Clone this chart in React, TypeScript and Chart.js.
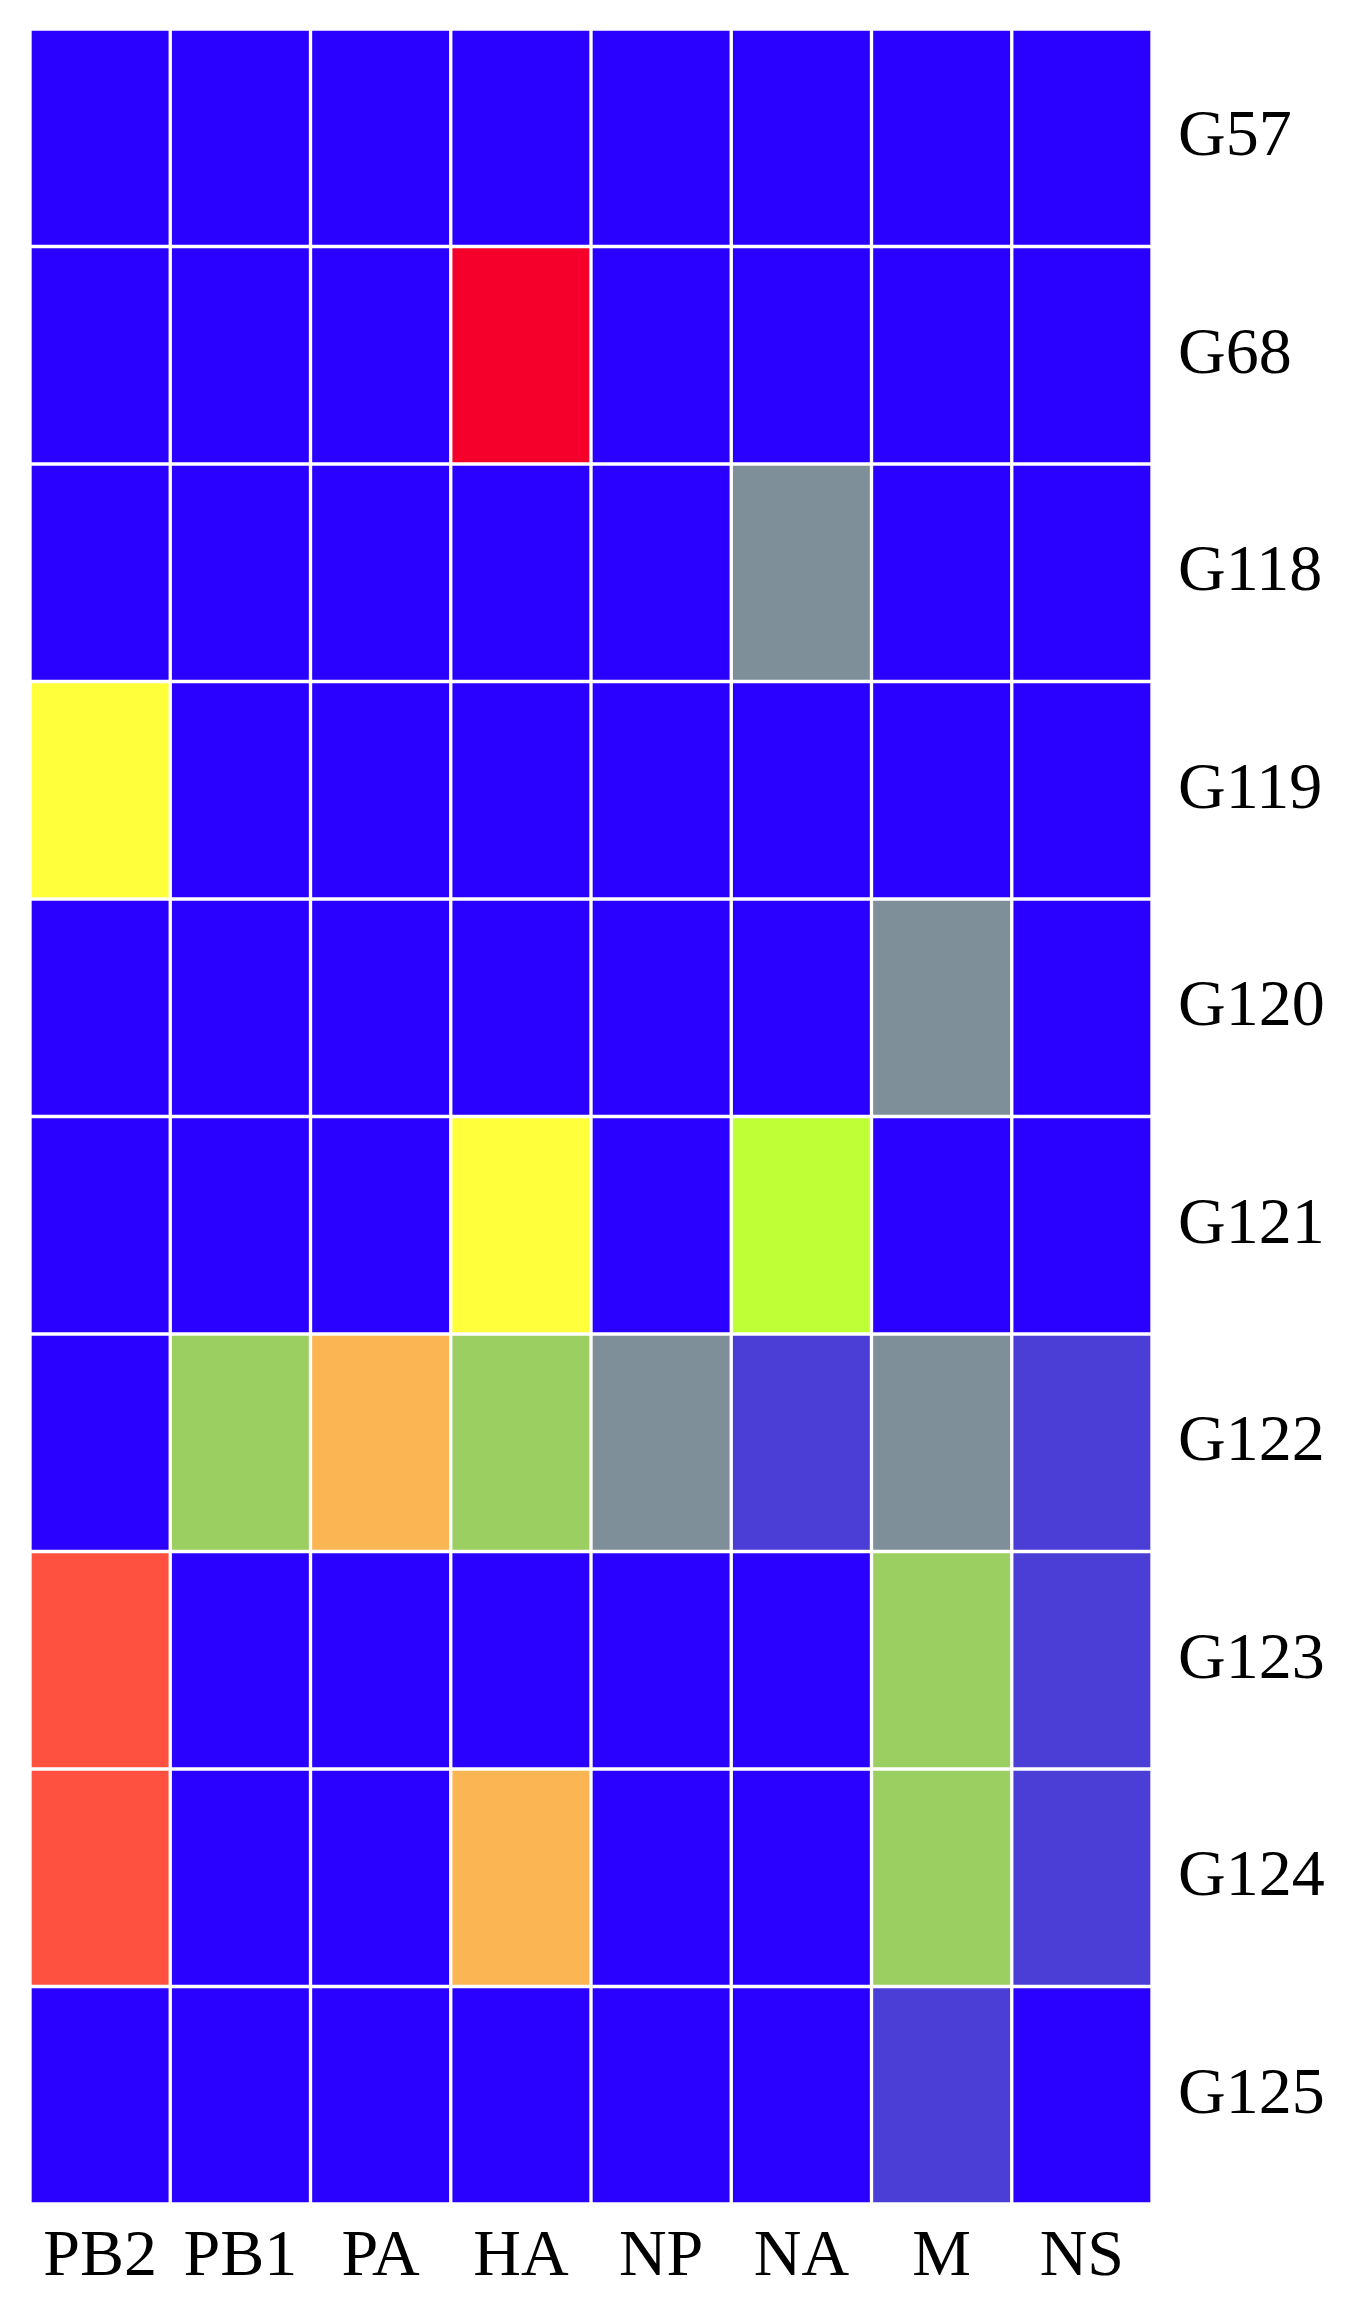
import React, { useEffect, useRef } from "react";
import { Chart, registerables } from "chart.js";

Chart.register(...registerables);

const segments = ["PB2", "PB1", "PA", "HA", "NP", "NA", "M", "NS"];
const groups = ["G57", "G68", "G118", "G119", "G120", "G121", "G122", "G123", "G124", "G125"];

// level index per cell (row = group, column = segment)
const levelColors = [
  "#2A00FF", // 0 blue
  "#4A3ED6", // 1 purple-blue
  "#7F8F99", // 2 gray
  "#9CCF61", // 3 green
  "#BEFF36", // 4 lime
  "#FFFF3C", // 5 yellow
  "#FBB553", // 6 orange
  "#FF5040", // 7 red-orange
  "#F5002A", // 8 red
];

const G57 = [0, 0, 0, 0, 0, 0, 0, 0];
const G68 = [0, 0, 0, 8, 0, 0, 0, 0];
const G118 = [0, 0, 0, 0, 0, 2, 0, 0];
const G119 = [5, 0, 0, 0, 0, 0, 0, 0];
const G120 = [0, 0, 0, 0, 0, 0, 2, 0];
const G121 = [0, 0, 0, 5, 0, 4, 0, 0];
const G122 = [0, 3, 6, 3, 2, 1, 2, 1];
const G123 = [7, 0, 0, 0, 0, 0, 3, 1];
const G124 = [7, 0, 0, 6, 0, 0, 3, 1];
const G125 = [0, 0, 0, 0, 0, 0, 1, 0];

const matrix = [G57, G68, G118, G119, G120, G121, G122, G123, G124, G125];

export default function App() {
  const ref = useRef<HTMLCanvasElement>(null);

  useEffect(() => {
    if (!ref.current) return;
    const font = { family: "'Liberation Serif', 'Times New Roman', serif", size: 66 };
    const datasets = segments.map((seg, c) => ({
      label: seg,
      data: groups.map(() => [c, c + 1] as [number, number]),
      backgroundColor: matrix.map((row) => levelColors[row[c]]),
      borderColor: "#ffffff",
      borderWidth: 2,
      borderSkipped: false as const,
      barPercentage: 1,
      categoryPercentage: 1,
      grouped: false,
    }));
    const chart = new Chart(ref.current, {
      type: "bar",
      data: { labels: groups, datasets: datasets as any },
      options: {
        indexAxis: "y",
        responsive: false,
        animation: false,
        layout: { padding: { left: 30, top: 29, right: 0, bottom: 0 } },
        plugins: { legend: { display: false }, tooltip: { enabled: false } },
        scales: {
          x: {
            type: "linear",
            min: 0,
            max: segments.length,
            grid: { display: false, drawTicks: false },
            border: { display: false },
            afterBuildTicks: (scale: any) => {
              scale.ticks = segments.map((_, i) => ({ value: i + 0.5 }));
            },
            afterFit: (scale: any) => {
              scale.height = 95;
              scale.paddingLeft = 0;
              scale.paddingRight = 0;
            },
            ticks: {
              autoSkip: false,
              maxRotation: 0,
              padding: 14,
              color: "#000",
              font,
              callback: (_v: any, i: number) => segments[i],
            },
          },
          y: {
            type: "category",
            position: "right",
            grid: { display: false, drawTicks: false },
            border: { display: false },
            afterFit: (scale: any) => {
              scale.width = 198;
              scale.paddingTop = 0;
              scale.paddingBottom = 0;
            },
            ticks: { padding: 26, color: "#000", font },
          },
        },
      },
    });
    return () => chart.destroy();
  }, []);

  return (
    <div style={{ position: "absolute", left: 0, top: 0, width: 1350, height: 2299, background: "#fff" }}>
      <canvas ref={ref} width={1350} height={2299} style={{ display: "block" }} />
    </div>
  );
}
